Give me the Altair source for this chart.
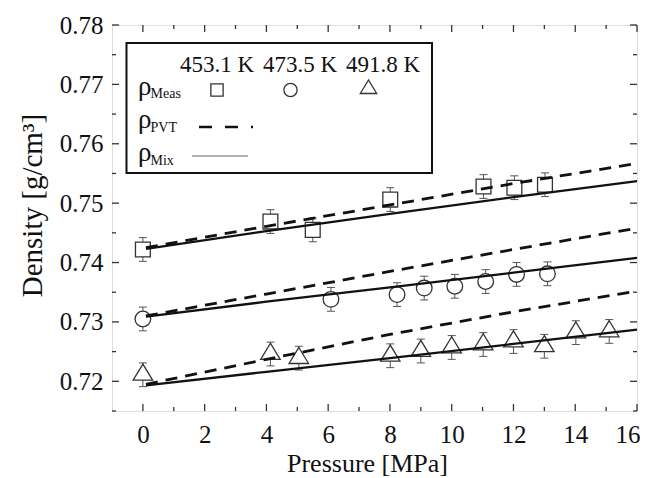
import altair as alt
import pandas as pd

# ---------------- data ----------------
temps = ["453.1 K", "473.5 K", "491.8 K"]

p_453 = [0.0, 4.13, 5.5, 8.01, 11.03, 12.03, 13.02]
rho_453 = [0.7422, 0.7469, 0.7455, 0.7506, 0.7528, 0.7526, 0.7531]

p_473 = [0.0, 6.09, 8.23, 9.11, 10.1, 11.1, 12.1, 13.1]
rho_473 = [0.7305, 0.7338, 0.7346, 0.7357, 0.7360, 0.7368, 0.7380, 0.7381]

p_491 = [0.0, 4.13, 5.05, 8.01, 9.0, 10.0, 11.02, 12.0, 13.0, 14.02, 15.1]
rho_491 = [0.7211, 0.7246, 0.7239, 0.7243, 0.7251, 0.7257, 0.7262, 0.7267, 0.7259, 0.7282, 0.7284]

rho_err = 0.002

p_line = [0.1, 4.0, 8.0, 12.0, 16.0]
pvt_453 = [0.7425, 0.7461, 0.7497, 0.7533, 0.7567]
mix_453 = [0.7423, 0.7453, 0.7482, 0.7510, 0.7537]
pvt_473 = [0.7310, 0.7347, 0.7385, 0.7422, 0.7458]
mix_473 = [0.7309, 0.7334, 0.7358, 0.7383, 0.7408]
pvt_491 = [0.7195, 0.7237, 0.7279, 0.7317, 0.7352]
mix_491 = [0.7193, 0.7216, 0.7239, 0.7263, 0.7287]

x_major = [0, 2, 4, 6, 8, 10, 12, 14, 16]
x_minor = [1, 3, 5, 7, 9, 11, 13, 15]
y_major = [0.72, 0.73, 0.74, 0.75, 0.76, 0.77, 0.78]
y_minor = [0.715, 0.725, 0.735, 0.745, 0.755, 0.765, 0.775]

legend_rows = ["Meas", "PVT", "Mix"]

# ---------------- tables ----------------
def meas_df(p, r, t):
    return pd.DataFrame({"P": p, "rho": r, "T": t,
                         "lo": [v - rho_err for v in r],
                         "hi": [v + rho_err for v in r]})

d453 = meas_df(p_453, rho_453, temps[0])
d473 = meas_df(p_473, rho_473, temps[1])
d491 = meas_df(p_491, rho_491, temps[2])
meas = pd.concat([d453, d473, d491], ignore_index=True)

lines = pd.concat([
    pd.DataFrame({"P": p_line, "rho": pvt_453, "T": temps[0], "kind": "PVT"}),
    pd.DataFrame({"P": p_line, "rho": mix_453, "T": temps[0], "kind": "Mix"}),
    pd.DataFrame({"P": p_line, "rho": pvt_473, "T": temps[1], "kind": "PVT"}),
    pd.DataFrame({"P": p_line, "rho": mix_473, "T": temps[1], "kind": "Mix"}),
    pd.DataFrame({"P": p_line, "rho": pvt_491, "T": temps[2], "kind": "PVT"}),
    pd.DataFrame({"P": p_line, "rho": mix_491, "T": temps[2], "kind": "Mix"}),
], ignore_index=True)

W, H = 525, 386
FONT = "Liberation Serif"
INK = "#111111"

xs = alt.Scale(domain=[-1, 16], nice=False, zero=False)
ys = alt.Scale(domain=[0.715, 0.78], nice=False, zero=False)

AX_X = alt.Axis(
    values=x_major, format="d", tickSize=0, domain=False, grid=False,
    labelFont=FONT, labelFontSize=25, labelColor=INK, labelPadding=31,
    labelBaseline="alphabetic", labelFlush=True, labelFlushOffset=3,
    labelOverlap=False,
    title="Pressure [MPa]", titleFont=FONT, titleFontSize=26,
    titleFontWeight="normal", titleColor=INK, titleX=255, titleY=52,
    titleAlign="center", titleBaseline="middle")
AX_Y = alt.Axis(
    values=y_major, format=".2f", tickSize=0, domain=False, grid=False,
    labelFont=FONT, labelFontSize=25, labelColor=INK, labelPadding=9,
    labelBaseline="middle", labelFlush=False, labelOverlap=False,
    title="Density [g/cm³]", titleFont=FONT, titleFontSize=29,
    titleFontWeight="normal", titleColor=INK, titleAngle=270,
    titleX=-80, titleY=180, titleAlign="center", titleBaseline="middle")

X = lambda f="P": alt.X(f"{f}:Q", scale=xs, axis=AX_X)
Y = lambda f="rho": alt.Y(f"{f}:Q", scale=ys, axis=AX_Y)

def tick_rules(vals, axis, length):
    df = pd.DataFrame({"v": vals})
    layers = []
    if axis == "x":
        layers.append(alt.Chart(df).mark_rule(color="#333", strokeWidth=1.3).encode(
            x=X("v"), y=alt.value(H), y2=alt.value(H - length)))
        layers.append(alt.Chart(df).mark_rule(color="#333", strokeWidth=1.3).encode(
            x=X("v"), y=alt.value(0), y2=alt.value(length)))
    else:
        layers.append(alt.Chart(df).mark_rule(color="#333", strokeWidth=1.3).encode(
            y=Y("v"), x=alt.value(0), x2=alt.value(length)))
        layers.append(alt.Chart(df).mark_rule(color="#333", strokeWidth=1.3).encode(
            y=Y("v"), x=alt.value(W), x2=alt.value(W - length)))
    return layers

ticks = (tick_rules(x_major, "x", 7) + tick_rules(x_minor, "x", 4)
         + tick_rules(y_major, "y", 7) + tick_rules(y_minor, "y", 4))

# error bars
err_rule = alt.Chart(meas).mark_rule(color="#555", strokeWidth=1).encode(
    x=X(), y=Y("lo"), y2="hi:Q")
cap_lo = alt.Chart(meas).mark_point(shape="M-1,0L1,0", size=64, color="#555",
                                    strokeWidth=1, filled=False, opacity=1).encode(x=X(), y=Y("lo"))
cap_hi = alt.Chart(meas).mark_point(shape="M-1,0L1,0", size=64, color="#555",
                                    strokeWidth=1, filled=False, opacity=1).encode(x=X(), y=Y("hi"))

TRI = "M0,-1.1L-1,0.55L1,0.55Z"

def markers(df, shape, size):
    return alt.Chart(df).mark_point(shape=shape, size=size, filled=False, fill="white",
                                    fillOpacity=1, stroke="#333", strokeWidth=1.3,
                                    opacity=1).encode(x=X(), y=Y())

m453 = markers(d453, "square", 220)
m473 = markers(d473, "circle", 245)
m491 = markers(d491, TRI, 380)

pvt = alt.Chart(lines[lines.kind == "PVT"]).mark_line(
    color=INK, strokeWidth=2.8, strokeDash=[12, 8]).encode(x=X(), y=Y(), detail="T:N")
mix = alt.Chart(lines[lines.kind == "Mix"]).mark_line(
    color=INK, strokeWidth=2.3).encode(x=X(), y=Y(), detail="T:N")

# ---------------- legend (drawn in pixel space) ----------------
one = pd.DataFrame({"a": [0]})
leg_box = alt.Chart(one).mark_rect(fill="white", stroke="#111", strokeWidth=2).encode(
    x=alt.value(14.5), x2=alt.value(320), y=alt.value(18), y2=alt.value(148))

def txt(s, x, y, size, align="left"):
    return alt.Chart(one).mark_text(text=s, font=FONT, fontSize=size, color=INK,
                                    align=align, baseline="alphabetic").encode(
        x=alt.value(x), y=alt.value(y))

leg = [leg_box,
       txt(temps[0], 68, 47, 23), txt(temps[1], 151, 47, 23), txt(temps[2], 234, 47, 23)]
for i, (rb, sb) in enumerate([(70, 73), (103, 107), (136, 140)]):
    leg.append(txt("ρ", 26, rb, 27))
    leg.append(txt(legend_rows[i], 38.5, sb, 14))

def leg_sym(shape, size, x, y):
    return alt.Chart(one).mark_point(shape=shape, size=size, filled=False, fill="white",
                                     fillOpacity=1, stroke="#333", strokeWidth=1.3,
                                     opacity=1).encode(x=alt.value(x), y=alt.value(y))

leg += [leg_sym("square", 150, 105, 65), leg_sym("circle", 175, 178.5, 65),
        leg_sym(TRI, 270, 256.5, 64)]
leg.append(alt.Chart(one).mark_rule(color=INK, strokeWidth=2.6, strokeDash=[13, 13]).encode(
    x=alt.value(87), x2=alt.value(141), y=alt.value(102)))
leg.append(alt.Chart(one).mark_rule(color="#666", strokeWidth=1).encode(
    x=alt.value(80), x2=alt.value(136), y=alt.value(131)))

chart = alt.layer(*ticks, err_rule, cap_lo, cap_hi, m453, m473, m491,
                  pvt, mix, *leg).properties(
    width=W, height=H,
    autosize=alt.AutoSizeParams(type="none"),
    padding={"left": 104, "top": 17, "right": 3, "bottom": 66},
).configure_view(stroke="#333", strokeWidth=1.5).configure(font=FONT)

chart.save("out.html", embed_options={"renderer": "svg", "actions": False})
